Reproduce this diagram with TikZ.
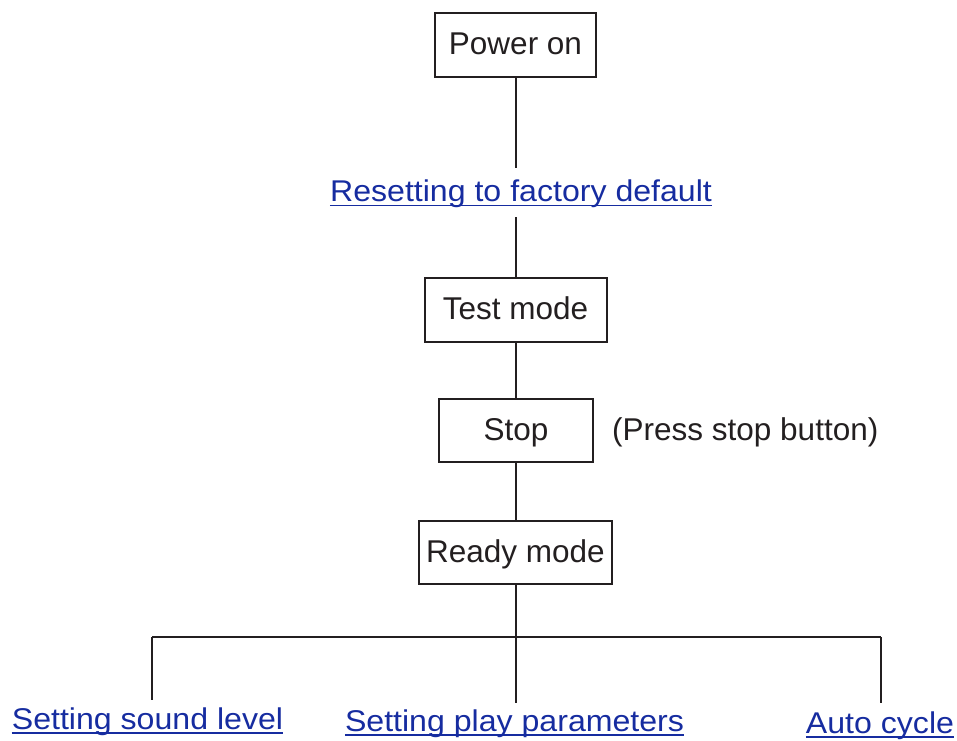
\documentclass[tikz,border=0pt]{standalone}
\usepackage{fontspec}
\setmainfont{Liberation Sans}
\newfontfamily\linkfont[FakeStretch=1.07]{Liberation Sans}
\definecolor{ink}{RGB}{35,31,32}
\definecolor{linkblue}{RGB}{22,44,160}
\begin{document}
\begin{tikzpicture}[x=1pt,y=-1pt,
  every node/.style={text=ink},
  box/.style={draw=ink, line width=2pt, inner sep=0pt,
    font=\fontsize{31.5}{36}\selectfont, text height=23pt, text depth=4pt},
  plain/.style={inner sep=0pt, anchor=base west, font=\fontsize{31.5}{36}\selectfont},
  link/.style={inner sep=0pt, anchor=base, text=linkblue, font=\linkfont\fontsize{30}{34}\selectfont},
  uline/.style={draw=linkblue, line width=1.6pt},
  conn/.style={draw=ink, line width=2pt}]
\useasboundingbox (0,0) rectangle (957,740);

% boxes
\node[box, minimum width=161pt, minimum height=64pt] (power) at (515.5,45) {Power on};
\node[box, minimum width=182pt, minimum height=64pt] (test) at (515.5,309.5) {Test mode};
\node[box, minimum width=154pt, minimum height=63pt] (stop) at (516,430.5) {Stop};
\node[box, minimum width=193pt, minimum height=63pt] (ready) at (515.5,552.5) {Ready mode};
\node[plain] (press) at (612,440) {(Press stop button)};

% links
\node[link] (reset) at (521,201.5) {Resetting to factory default};
\node[link] (sound) at (147.5,729) {Setting sound level};
\node[link] (play) at (514.5,731) {Setting play parameters};
\node[link] (auto) at (880,733) {Auto cycle};
\foreach \n in {reset,sound,play,auto}{
  \draw[uline] ([yshift=-4pt]\n.base west) -- ([yshift=-4pt]\n.base east);
}

% connector coordinates
\coordinate (r1) at (515.5,168);
\coordinate (r2) at (515.5,217);
\coordinate (bar) at (515.5,637);
\coordinate (barL) at (152,637);
\coordinate (barR) at (881,637);
\coordinate (endL) at (152,700);
\coordinate (endM) at (515.5,703);
\coordinate (endR) at (881,703);

% connectors
\draw[conn] (power.south) -- (r1);
\draw[conn] (r2) -- (test.north);
\draw[conn] (test.south) -- (stop.north -| test.south);
\draw[conn] (stop.south -| ready.north) -- (ready.north);
\draw[conn] (ready.south) -- (bar);
\draw[conn] (barL) -- (barR);
\draw[conn] (barL) -- (endL);
\draw[conn] (bar) -- (endM);
\draw[conn] (barR) -- (endR);
\end{tikzpicture}
\end{document}
